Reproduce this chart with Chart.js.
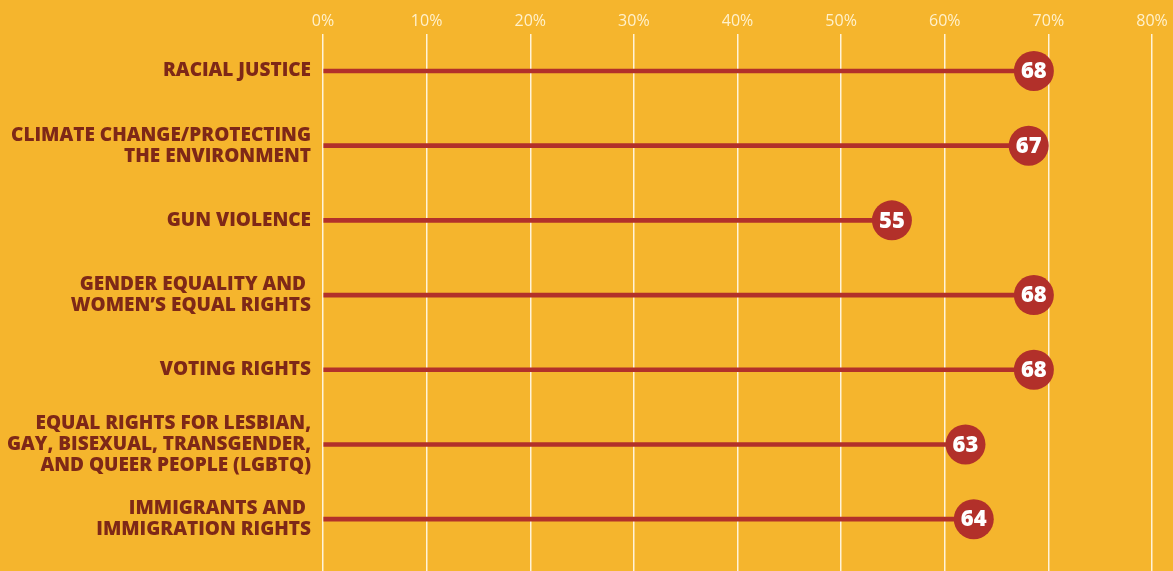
<!DOCTYPE html>
<html lang="en">
<head>
    <meta charset="UTF-8">
    <title>Issues lollipop chart</title>
    <script src="https://cdn.jsdelivr.net/npm/chart.js"></script>
    <style>
        html, body { margin: 0; padding: 0; background: #F5B52D; }
        #wrap { width: 1173px; height: 571px; }
    </style>
</head>
<body>
<div id="wrap"><canvas id="chart"></canvas></div>
<script>
    // categories, top to bottom
    const issues = [
        ['RACIAL JUSTICE'],
        ['CLIMATE CHANGE/PROTECTING', 'THE ENVIRONMENT'],
        ['GUN VIOLENCE'],
        ['GENDER EQUALITY AND ', 'WOMEN\u2019S EQUAL RIGHTS'],
        ['VOTING RIGHTS'],
        ['EQUAL RIGHTS FOR LESBIAN,', 'GAY, BISEXUAL, TRANSGENDER,', 'AND QUEER PEOPLE (LGBTQ)'],
        ['IMMIGRANTS AND ', 'IMMIGRATION RIGHTS']
    ];
    // where each dot sits on the axis
    const percents = [68.6, 68.1, 54.9, 68.6, 68.6, 62.0, 62.8];
    // number printed inside each dot
    const dotLabels = ['68', '67', '55', '68', '68', '63', '64'];
    const xTicks = [0, 10, 20, 30, 40, 50, 60, 70, 80];

    const red = '#B2302A';
    const brown = '#7E2817';

    const rows = percents.map((v, i) => ({ x: v, y: i }));

    // white numbers inside the dots
    const dotText = {
        id: 'dotText',
        afterDatasetsDraw(chart) {
            const ctx = chart.ctx;
            const meta = chart.getDatasetMeta(1);
            ctx.save();
            ctx.fillStyle = '#fff';
            ctx.font = '800 22px "Open Sans"';
            ctx.textAlign = 'center';
            ctx.textBaseline = 'middle';
            meta.data.forEach((pt, i) => {
                ctx.fillText(dotLabels[i], pt.x, pt.y + 1);
            });
            ctx.restore();
        }
    };

    new Chart(document.getElementById('chart'), {
        data: {
            datasets: [{
                type: 'bar',
                indexAxis: 'y',
                data: rows,
                backgroundColor: red,
                barThickness: 4,
                base: 0
            }, {
                type: 'scatter',
                data: rows,
                pointRadius: 20,
                pointHoverRadius: 20,
                pointBackgroundColor: red,
                pointBorderWidth: 0
            }]
        },
        options: {
            responsive: true,
            maintainAspectRatio: false,
            animation: false,
            // no extra room for the dots, the plot runs to the bottom edge
            layout: { autoPadding: false, padding: { top: 0, right: 21, bottom: 0, left: 0 } },
            plugins: {
                legend: { display: false },
                tooltip: { enabled: false }
            },
            scales: {
                x: {
                    type: 'linear',
                    position: 'top',
                    min: 0,
                    max: 80,
                    offset: false,
                    afterBuildTicks: s => { s.ticks = xTicks.map(v => ({ value: v })); },
                    afterFit: s => { s.height = 34; },
                    border: { display: false },
                    grid: { color: '#FFF3D8', lineWidth: 1.5, drawTicks: false },
                    ticks: {
                        color: '#FFF1CC',
                        font: { family: '"Open Sans"', size: 16, weight: 400 },
                        padding: 3,
                        callback: v => v + '%'
                    }
                },
                y: {
                    type: 'linear',
                    reverse: true,
                    offset: false,
                    min: -0.495,
                    max: 6.694,
                    afterBuildTicks: s => { s.ticks = issues.map((_, i) => ({ value: i })); },
                    afterFit: s => {
                        s.width = 323;
                        s.paddingTop = 0;
                        s.paddingBottom = 0;
                    },
                    border: { display: false },
                    grid: { display: false, drawTicks: false },
                    ticks: {
                        color: brown,
                        font: { family: '"Open Sans"', size: 19, weight: 800, lineHeight: 1.1 },
                        padding: 12,
                        callback: v => issues[v]
                    }
                }
            }
        },
        plugins: [dotText]
    });
</script>
</body>
</html>
